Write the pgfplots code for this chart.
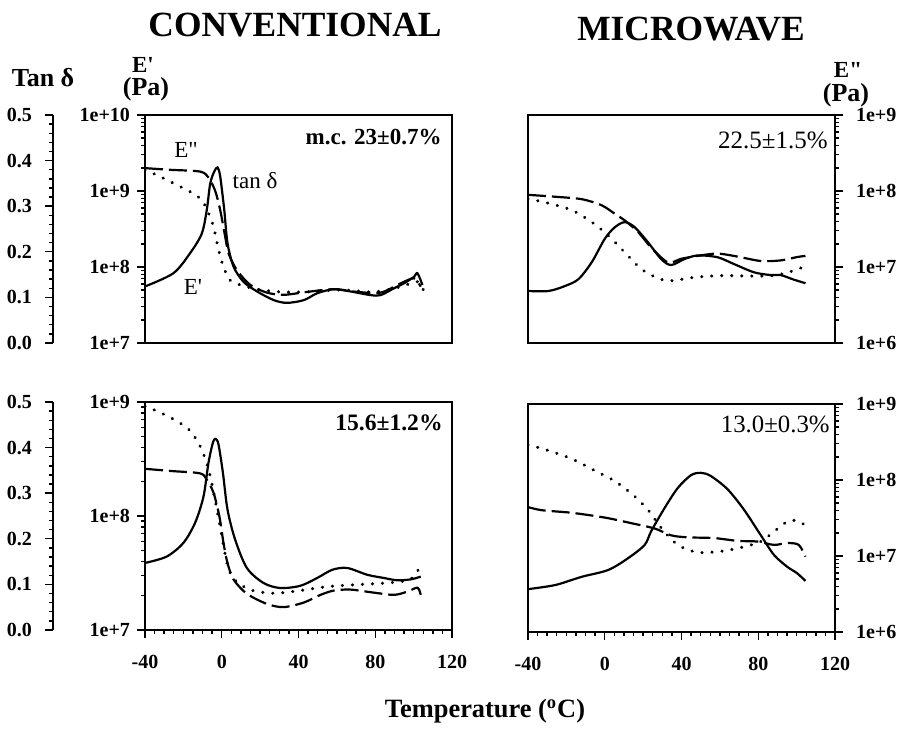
\documentclass[border=0pt]{standalone}
\usepackage{fontspec}
\setmainfont{Liberation Serif}
\usepackage{pgfplots}
\pgfplotsset{compat=1.18}

\pgfplotsset{
  panel/.style={scale only axis, width=153.5pt, height=114pt, anchor=south west,
    xmin=-40, xmax=120, axis line style={line width=1pt},
    tick align=outside, major tick length=4pt, minor tick length=2pt,
    every tick/.style={black, line width=0.7pt},
    tick label style={font=\fontsize{10}{11}\bfseries\selectfont},
    xticklabel style={yshift=-5pt}},
  hidden/.style={panel, hide axis},
  declabels/.style={log basis y=10,
    yticklabel={\pgfmathtruncatemacro{\ee}{round(\tick)}1e+\ee}},
  rightlabels/.style={ytick pos=right, yticklabel pos=right, yticklabel style={xshift=3pt}},
  tanline/.style={black, line width=1.1pt, smooth},
  eline/.style={black, line width=1.7pt, dash pattern=on 0.01pt off 5pt, line cap=round, smooth},
  eeline/.style={black, line width=1.1pt, dash pattern=on 9pt off 3pt, smooth},
  tanaxis/.style={scale only axis, width=1pt, height=114pt, anchor=south west,
    axis y line=left, axis x line=none, axis line style={-, line width=0.9pt},
    xmin=0, xmax=1, ymin=0, ymax=0.5,
    ytick={0,0.1,0.2,0.3,0.4,0.5}, yticklabels={0.0,0.1,0.2,0.3,0.4,0.5},
    minor y tick num=4, tick align=outside, major tick length=4pt, minor tick length=2pt,
    every tick/.style={black, line width=0.7pt},
    tick label style={font=\fontsize{10}{11}\bfseries\selectfont},
    yticklabel style={xshift=-3pt}},
}

\begin{document}
\begin{tikzpicture}
\path (0,0) rectangle (452pt,365.5pt);

% ---------------- top row ----------------
\begin{axis}[tanaxis, at={(26.5pt,194pt)}]
\end{axis}

% top-left: E' axis and box
\begin{axis}[panel, ymode=log, declabels, at={(72.5pt,194pt)}, ymin=1e7, ymax=1e10, ytick pos=left, xtick=\empty]
\addplot[eline] coordinates {(-40,1.9e9)(-32.2,1.55e9)(-23.4,1.2e9)(-16.5,9.8e8)(-10.4,7.6e8)(-6.9,5.1e8)(-4.3,3.4e8)(-1.7,1.7e8)(0.9,1.0e8)(4.4,6.7e7)(9.7,5.8e7)(18.4,5.1e7)(30.6,4.7e7)(44.5,4.7e7)(61.9,5.0e7)(79.3,4.7e7)(93.3,5.5e7)(102.0,6.4e7)(105.5,4.7e7)};
\end{axis}
\begin{axis}[hidden, at={(72.5pt,194pt)}, ymode=log, ymin=1e6, ymax=1e9]
\addplot[eeline] coordinates {(-40,2.0e8)(-26.9,1.9e8)(-11.3,1.8e8)(-6.9,1.5e8)(-3.4,1.0e8)(-0.8,5.6e7)(1.8,2.5e7)(3.6,1.5e7)(7.9,9.1e6)(14.9,5.8e6)(23.6,4.6e6)(32.3,4.3e6)(44.5,4.7e6)(58.4,5.1e6)(70.6,4.7e6)(82.8,4.6e6)(93.3,6.1e6)(100.2,7.1e6)(103.7,5.5e6)};
\end{axis}
\begin{axis}[hidden, at={(72.5pt,194pt)}, ymin=0, ymax=0.5]
\addplot[tanline] coordinates {(-40,0.124)(-25.2,0.153)(-16.5,0.197)(-10.4,0.24)(-7.8,0.292)(-6.0,0.35)(-3.9,0.376)(-2.2,0.385)(-0.8,0.365)(1.3,0.292)(3.0,0.219)(6.2,0.167)(11.4,0.134)(18.4,0.113)(27.1,0.094)(34.0,0.088)(42.8,0.094)(49.7,0.109)(58.4,0.118)(67.1,0.113)(77.6,0.105)(82.8,0.105)(89.8,0.12)(95.0,0.131)(100.2,0.145)(102.0,0.153)(104.6,0.127)};
\end{axis}

% top-right: E'' axis on the right
\begin{axis}[panel, ymode=log, declabels, rightlabels, at={(264pt,194pt)}, ymin=1e6, ymax=1e9, xtick=\empty]
\addplot[eeline] coordinates {(-40,8.9e7)(-25.8,8.4e7)(-12.0,7.8e7)(-1.7,6.5e7)(5.3,5.0e7)(10.4,4.1e7)(17.3,2.9e7)(24.2,1.8e7)(32.9,1.15e7)(39.8,1.28e7)(48.4,1.4e7)(58.8,1.5e7)(69.2,1.37e7)(81.2,1.2e7)(91.6,1.22e7)(100.2,1.35e7)(104.6,1.4e7)};
\end{axis}
\begin{axis}[hidden, at={(264pt,194pt)}, ymode=log, ymin=1e7, ymax=1e10]
\addplot[eline] coordinates {(-40,7.9e8)(-29.3,6.9e8)(-17.2,5.6e8)(-6.8,3.9e8)(1.8,2.6e8)(10.4,1.56e8)(19.1,9.4e7)(27.7,7.1e7)(34.6,6.6e7)(46.7,7.3e7)(60.5,7.7e7)(76.1,7.6e7)(88.2,7.7e7)(96.8,8.7e7)(104.6,1.02e8)};
\end{axis}
\begin{axis}[hidden, at={(264pt,194pt)}, ymin=0, ymax=0.5]
\addplot[tanline] coordinates {(-40,0.114)(-29.3,0.114)(-20.7,0.125)(-13.7,0.14)(-6.8,0.177)(0.1,0.229)(5.3,0.254)(10.4,0.265)(15.6,0.254)(22.5,0.221)(29.4,0.184)(34.6,0.171)(41.5,0.184)(48.4,0.192)(58.8,0.188)(67.4,0.173)(77.8,0.155)(86.4,0.149)(91.6,0.149)(98.5,0.139)(104.6,0.131)};
\end{axis}

% ---------------- bottom row ----------------
\begin{axis}[tanaxis, at={(26.5pt,50.5pt)}]
\end{axis}

% bottom-left
\begin{axis}[panel, ymode=log, declabels, at={(72.5pt,50.5pt)}, ymin=1e7, ymax=1e9, ytick pos=left,
  xtick={-40,0,40,80,120}, xticklabels={-40,0,40,80,120}, minor x tick num=7, xtick pos=bottom]
\addplot[eline] coordinates {(-40,9.2e8)(-32.2,8.1e8)(-23.4,6.8e8)(-16.5,5.6e8)(-11.3,4.1e8)(-7.8,2.9e8)(-5.2,1.95e8)(-2.5,1.14e8)(0.1,6.6e7)(2.7,3.9e7)(6.2,2.8e7)(14.9,2.25e7)(27.1,2.1e7)(39.3,2.2e7)(55.0,2.4e7)(70.6,2.5e7)(88.0,2.6e7)(98.5,2.8e7)(103.4,3.6e7)};
\end{axis}
\begin{axis}[hidden, at={(72.5pt,50.5pt)}, ymode=log, ymin=1e6, ymax=1e9]
\addplot[eeline] coordinates {(-40,1.32e8)(-25.2,1.23e8)(-11.3,1.15e8)(-7.8,9.5e7)(-4.3,6.4e7)(-1.2,3.1e7)(0.9,1.4e7)(3.0,7.6e6)(6.2,4.6e6)(13.1,3.0e6)(23.6,2.2e6)(32.3,2.0e6)(42.8,2.3e6)(51.5,2.9e6)(58.4,3.3e6)(67.1,3.4e6)(79.3,3.1e6)(89.8,2.9e6)(96.8,3.2e6)(102.0,3.6e6)(103.7,2.9e6)};
\end{axis}
\begin{axis}[hidden, at={(72.5pt,50.5pt)}, ymin=0, ymax=0.5]
\addplot[tanline] coordinates {(-40,0.147)(-28.7,0.161)(-20.0,0.191)(-13.9,0.235)(-9.5,0.293)(-6.9,0.367)(-4.6,0.411)(-3.2,0.419)(-1.7,0.407)(0.6,0.345)(3.0,0.264)(7.0,0.198)(13.1,0.136)(21.8,0.103)(30.6,0.092)(41.0,0.097)(49.7,0.114)(57.6,0.132)(65.4,0.136)(75.9,0.121)(84.6,0.114)(91.5,0.109)(98.5,0.111)(103.7,0.117)};
\end{axis}

% bottom-right
\begin{axis}[panel, ymode=log, declabels, rightlabels, at={(264pt,49.5pt)}, ymin=1e6, ymax=1e9,
  xtick={-40,0,40,80,120}, xticklabels={-40,0,40,80,120}, minor x tick num=7, xtick pos=bottom]
\addplot[eeline] coordinates {(-40,4.4e7)(-32.7,4.0e7)(-17.2,3.7e7)(0.1,3.2e7)(13.9,2.7e7)(26.0,2.3e7)(34.6,1.87e7)(43.2,1.76e7)(57.1,1.72e7)(69.2,1.58e7)(79.5,1.55e7)(88.2,1.4e7)(95.1,1.48e7)(101.1,1.4e7)(104.6,9.8e6)};
\end{axis}
\begin{axis}[hidden, at={(264pt,49.5pt)}, ymode=log, ymin=1e7, ymax=1e9]
\addplot[eline] coordinates {(-40,4.4e8)(-29.3,3.9e8)(-17.2,3.3e8)(-5.1,2.6e8)(5.3,2.1e8)(15.6,1.55e8)(22.5,1.18e8)(29.4,8.2e7)(38.1,5.8e7)(48.4,5.0e7)(60.5,5.1e7)(70.9,5.5e7)(81.2,6.2e7)(88.2,7.6e7)(95.1,9.3e7)(100.2,9.5e7)(103.7,8.8e7)};
\end{axis}
\begin{axis}[hidden, at={(264pt,49.5pt)}, ymin=0, ymax=0.5]
\addplot[tanline] coordinates {(-40,0.094)(-25.8,0.103)(-12.0,0.121)(1.8,0.136)(12.2,0.162)(20.8,0.191)(24.2,0.221)(31.2,0.272)(38.1,0.316)(45.0,0.344)(50.2,0.349)(55.3,0.342)(64.0,0.313)(72.6,0.268)(81.2,0.213)(88.2,0.169)(95.1,0.143)(100.2,0.129)(104.6,0.112)};
\end{axis}

% ---------------- texts ----------------
\node[font=\fontsize{17.7}{18}\bfseries\selectfont] at (147.5pt,353pt) {CONVENTIONAL};
\node[font=\fontsize{17.7}{18}\bfseries\selectfont] at (345.5pt,351pt) {MICROWAVE};
\node[font=\fontsize{13}{14}\bfseries\selectfont] at (21.5pt,326.5pt) {Tan δ};
\node[font=\fontsize{11.5}{12}\bfseries\selectfont] at (71.5pt,333pt) {E\textquotesingle};
\node[font=\fontsize{13}{14}\bfseries\selectfont] at (73pt,321pt) {(Pa)};
\node[font=\fontsize{11.5}{12}\bfseries\selectfont] at (424pt,330.5pt) {E\textquotedbl};
\node[font=\fontsize{13}{14}\bfseries\selectfont] at (423pt,318pt) {(Pa)};
\node[font=\fontsize{13.2}{14}\bfseries\selectfont] at (242.5pt,10pt) {Temperature (\textsuperscript{o}C)};

\node[anchor=east, inner sep=0pt, font=\fontsize{11.5}{12}\bfseries\selectfont] at (221pt,297pt) {m.c. 23±0.7\%};
\node[anchor=east, inner sep=0pt, font=\fontsize{12.5}{13}\selectfont] at (414pt,295.5pt) {22.5±1.5\%};
\node[anchor=east, inner sep=0pt, font=\fontsize{11.8}{12}\bfseries\selectfont] at (221.5pt,154pt) {15.6±1.2\%};
\node[anchor=east, inner sep=0pt, font=\fontsize{12.4}{13}\selectfont] at (415pt,153.5pt) {13.0±0.3\%};

\node[font=\fontsize{11.5}{12}\selectfont] at (93pt,290.5pt) {E\textquotedbl};
\node[font=\fontsize{11.5}{12}\selectfont] at (127.5pt,275pt) {tan δ};
\node[font=\fontsize{11.5}{12}\selectfont] at (96.5pt,222pt) {E\textquotesingle};
\end{tikzpicture}
\end{document}
